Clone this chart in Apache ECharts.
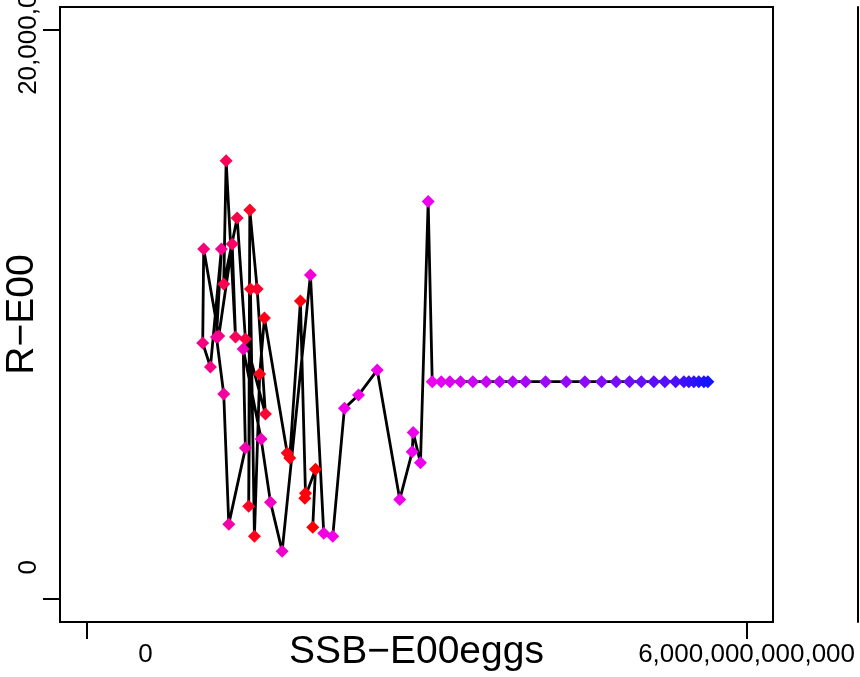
<!DOCTYPE html>
<html>
<head>
<meta charset="utf-8">
<script src="https://cdn.jsdelivr.net/npm/echarts@6/dist/echarts.min.js"></script>
<style>
  html, body { margin: 0; padding: 0; background: #fff; }
  #container { width: 860px; height: 677px; }
</style>
</head>
<body>
<div id="container"></div>
<script>
// SSB (eggs) per year, in order
const ssb = [
  2.057e12, 2.082e12, 1.985e12, 1.991e12, 1.945e12, 1.848e12, 1.825e12, 1.618e12,
  1.575e12, 1.527e12, 1.491e12, 1.475e12, 1.485e12, 1.552e12, 1.627e12, 1.445e12,
  1.370e12, 1.248e12, 1.270e12, 1.355e12, 1.325e12, 1.203e12, 1.066e12, 1.057e12,
  1.127e12, 1.227e12, 1.182e12, 1.248e12, 1.294e12, 1.445e12, 1.425e12, 1.588e12,
  1.673e12, 1.779e12, 2.036e12, 2.157e12, 2.239e12, 2.345e12, 2.473e12, 2.643e12,
  2.848e12, 2.961e12, 2.970e12, 3.036e12, 3.106e12,
  3.143e12, 3.225e12, 3.303e12, 3.400e12, 3.512e12, 3.634e12, 3.755e12, 3.875e12,
  3.991e12, 4.173e12, 4.361e12, 4.530e12, 4.682e12, 4.815e12, 4.936e12, 5.043e12,
  5.157e12, 5.257e12, 5.355e12, 5.430e12, 5.475e12, 5.521e12, 5.566e12, 5.612e12,
  5.648e12
];
// recruitment per year, same order
const rec = [
  2531, 4569, 3550, 3726, 10475, 4956, 5132, 9877,
  7909, 2214, 10896, 3269, 13673, 10896, 6503, 9139,
  13392, 11072, 15396, 9209, 12478, 9244, 12302, 8998,
  8155, 12302, 9209, 7206, 2636, 5308, 8787, 5624,
  3410, 1687, 11388, 2320, 2214, 6703, 7171, 8049,
  3504, 5178, 5859, 4791, 13965,
  7640, 7640, 7640, 7640, 7640, 7640, 7640, 7640,
  7640, 7640, 7640, 7640, 7640, 7640, 7640, 7640,
  7640, 7640, 7640, 7640, 7640, 7640, 7640, 7640,
  7640
];
const xTicks = [0, 6e12];
const yTicks = [0, 20000];

// colour ramp by year index: red -> magenta -> blue
const stops = [
  [0, [255, 0, 0]],
  [12, [250, 5, 40]],
  [36, [240, 0, 230]],
  [45, [238, 0, 240]],
  [ssb.length - 1, [20, 20, 255]]
];
function rampColor(i) {
  for (let k = 0; k < stops.length - 1; k++) {
    const a = stops[k], b = stops[k + 1];
    if (i <= b[0]) {
      const t = (i - a[0]) / (b[0] - a[0]);
      const c = a[1].map((v, j) => Math.round(v + (b[1][j] - v) * t));
      return 'rgb(' + c.join(',') + ')';
    }
  }
  return 'rgb(20,20,255)';
}

const points = ssb.map((x, i) => [x, rec[i]]);
const font = "'Liberation Sans', Arial, sans-serif";

function fmt(v) {
  return Math.round(v).toString().replace(/\B(?=(\d{3})+(?!\d))/g, ',');
}

const chart = echarts.init(document.getElementById('container'), null, { renderer: 'canvas' });
const option = {
  animation: false,
  backgroundColor: '#fff',
  grid: [
    { left: 60, right: 87, top: 7, bottom: 55, show: true, borderColor: '#000', borderWidth: 2,
      backgroundColor: 'transparent', containLabel: false, outerBoundsMode: 'none' },
    { left: 858, width: 200, top: 7, bottom: 55, show: false, containLabel: false, outerBoundsMode: 'none' }
  ],
  xAxis: [
    {
      type: 'value',
      gridIndex: 0,
      min: -0.24e12,
      max: 6.24e12,
      name: 'SSB\u2212E00eggs',
      nameLocation: 'middle',
      nameGap: 11,
      nameMoveOverlap: false,
      nameTextStyle: { fontFamily: font, fontSize: 39, color: '#000', verticalAlign: 'top' },
      splitLine: { show: false },
      axisLine: { show: false, onZero: false },
      axisTick: { show: true, customValues: xTicks, length: 17, lineStyle: { color: '#000', width: 2 } },
      axisLabel: {
        customValues: xTicks,
        margin: 20,
        fontFamily: font,
        fontSize: 26,
        color: '#000',
        formatter: v => v === 0 ? '{z|0}' : fmt(v),
        rich: { z: { fontFamily: font, fontSize: 26, color: '#000', padding: [0, 0, 0, 118] } }
      }
    },
    { type: 'value', gridIndex: 1, show: false }
  ],
  yAxis: [
    {
      type: 'value',
      gridIndex: 0,
      min: -800,
      max: 20800,
      name: 'R\u2212E00',
      nameLocation: 'middle',
      nameGap: 18,
      nameRotate: 90,
      nameMoveOverlap: false,
      nameTextStyle: { fontFamily: font, fontSize: 39, color: '#000' },
      splitLine: { show: false },
      axisLine: { show: false, onZero: false },
      axisTick: { show: true, customValues: yTicks, length: 17, lineStyle: { color: '#000', width: 2 } },
      axisLabel: {
        customValues: yTicks,
        rotate: 90,
        margin: 18,
        fontFamily: font,
        fontSize: 26,
        color: '#000',
        formatter: v => v === 0 ? '{z|0}' : fmt(v * 1000),
        rich: { z: { fontFamily: font, fontSize: 26, color: '#000', padding: [0, 0, 0, 64] } }
      }
    },
    {
      type: 'value',
      gridIndex: 1,
      axisLine: { show: true, onZero: false, lineStyle: { color: '#000', width: 2 } },
      axisTick: { show: false },
      axisLabel: { show: false },
      splitLine: { show: false }
    }
  ],
  series: [
    {
      type: 'line',
      xAxisIndex: 0,
      yAxisIndex: 0,
      data: points,
      symbol: 'diamond',
      symbolSize: [13, 13],
      lineStyle: { color: '#000', width: 2.8 },
      itemStyle: { color: p => rampColor(p.dataIndex) },
      z: 3
    }
  ]
};
chart.setOption(option);
</script>
</body>
</html>
